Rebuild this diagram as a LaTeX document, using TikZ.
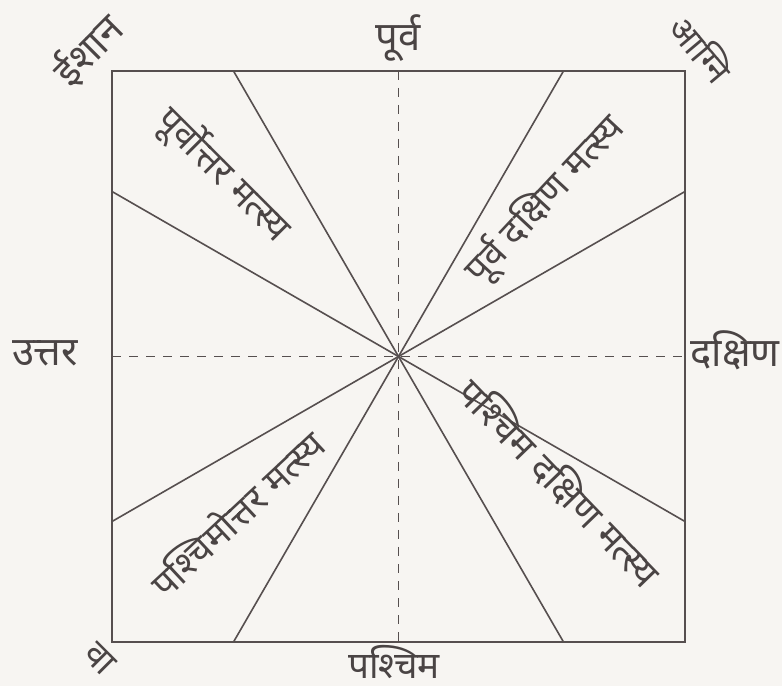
\documentclass[tikz,border=0pt]{standalone}
\usepackage{fontspec}
\newfontfamily\deva[Script=Devanagari]{Noto Sans}
\definecolor{bgc}{HTML}{F7F5F2}
\definecolor{ink}{HTML}{4A4444}
\definecolor{linec}{HTML}{564F4F}
\tikzset{
  frame/.style={draw=linec, line width=2pt},
  axis/.style={draw=linec, line width=1.8pt, dash pattern=on 9pt off 8pt},
  ray/.style={draw=linec, line width=1.6pt},
  dirlabel/.style={text=ink, font=\deva\fontsize{40}{44}\selectfont, inner sep=0pt},
  seclabel/.style={text=ink, font=\deva\fontsize{37}{40}\selectfont, inner sep=0pt}
}
\begin{document}
\begin{tikzpicture}[x=1pt,y=1pt]
\fill[bgc] (0,0) rectangle (782,686);
\useasboundingbox (0,0) rectangle (782,686);
% square corners
\coordinate (SW) at (112,44);
\coordinate (NE) at (685,615);
\coordinate (C) at (398.5,329.5);
% axis ends
\coordinate (Ntop) at (398.5,615);
\coordinate (Sbot) at (398.5,44);
\coordinate (Wl) at (112,329.5);
\coordinate (Er) at (685,329.5);
% ray ends
\coordinate (r1) at (233.5,615);
\coordinate (r2) at (563.5,615);
\coordinate (r3) at (233.5,44);
\coordinate (r4) at (563.5,44);
\coordinate (r5) at (112,494.5);
\coordinate (r6) at (112,164.5);
\coordinate (r7) at (685,494.5);
\coordinate (r8) at (685,164.5);
\draw[frame] (SW) rectangle (NE);
\draw[axis] (Ntop) -- (Sbot);
\draw[axis] (Wl) -- (Er);
\foreach \r in {r1,r2,r3,r4,r5,r6,r7,r8} \draw[ray] (C) -- (\r);
% direction labels
\node[dirlabel] (purva) at (398,648) {पूर्व};
\node[dirlabel, font=\deva\fontsize{37}{40}\selectfont] (pashchim) at (394,24) {पश्चिम};
\node[dirlabel] (uttar) at (45,333) {उत्तर};
\node[dirlabel] (dakshin) at (735,336) {दक्षिण};
\node[dirlabel, rotate=45] (ishan) at (88,636) {ईशान};
\node[dirlabel, rotate=-50, font=\deva\fontsize{35}{38}\selectfont] (agni) at (702,638) {आग्नि};
\node[dirlabel, rotate=-45, font=\deva\fontsize{36}{38}\selectfont] (va) at (100,27) {वा};
% sector labels
\node[seclabel, rotate=-45] (s1) at (223,511) {पूर्वोत्तर मत्स्य};
\node[seclabel, rotate=47] (s2) at (545,486) {पूर्व दक्षिण मत्स्य};
\node[seclabel, rotate=43] (s3) at (236,173) {पश्चिमोत्तर मत्स्य};
\node[seclabel, rotate=-46, font=\deva\fontsize{38}{41}\selectfont] (s4) at (560,204) {पश्चिम दक्षिण मत्स्य};
\end{tikzpicture}
\end{document}
